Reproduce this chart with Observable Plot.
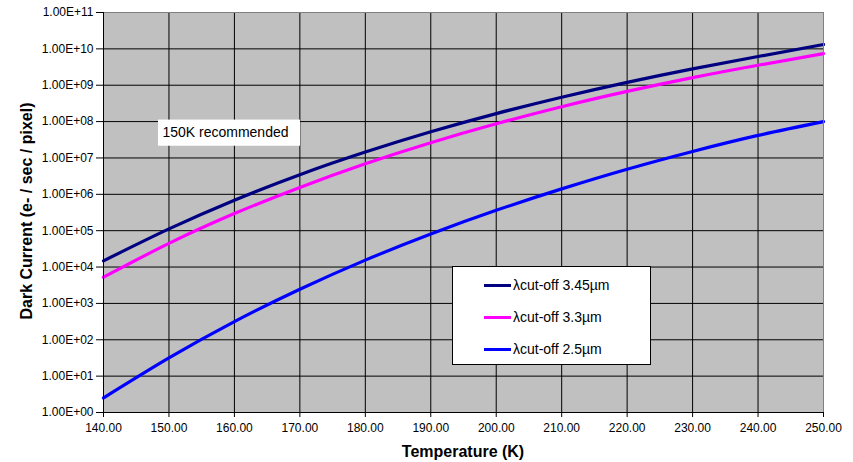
<!DOCTYPE html>
<html>
<head>
<meta charset="utf-8">
<script src="https://cdn.jsdelivr.net/npm/d3@7"></script>
<script src="https://cdn.jsdelivr.net/npm/@observablehq/plot@0.6"></script>
<style>
  html, body { margin: 0; padding: 0; background: #fff; }
  #wrap { position: relative; width: 853px; height: 462px; font-family: "Liberation Sans", Arial, sans-serif; }
  .title { position: absolute; font-weight: bold; font-size: 16px; color: #000; white-space: nowrap; }
  #legend { position: absolute; left: 452px; top: 266px; width: 199px; height: 99px; background: #fff; border: 1px solid #000; box-sizing: border-box; font-size: 14px; }
  .row { position: absolute; left: 31px; height: 16px; display: flex; align-items: center; white-space: nowrap; }
  .sw { width: 27px; height: 3px; margin-right: 2px; }
</style>
</head>
<body>
<div id="wrap"></div>
<script>
// ---- data ----
const temperatures = [140, 150, 160, 170, 180, 190, 200, 210, 220, 230, 240, 250];
const cutoff345 = [1.48e4, 1.12e5, 6.9e5, 3.47e6, 1.45e7, 5.25e7, 1.66e8, 4.68e8, 1.2e9, 2.82e9, 6.17e9, 1.32e10];
const cutoff33  = [5.25e3, 4.47e4, 2.95e5, 1.55e6, 6.92e6, 2.63e7, 8.71e7, 2.57e8, 6.76e8, 1.62e9, 3.55e9, 7.4e9];
const cutoff25  = [2.51, 31.6, 316, 2.45e3, 1.55e4, 8.13e4, 3.63e5, 1.41e6, 4.9e6, 1.51e7, 4.17e7, 1.0e8];
const seriesNames = ["λcut-off 3.45µm", "λcut-off 3.3µm", "λcut-off 2.5µm"];
const seriesColors = ["#000080", "#ff00ff", "#0000ff"];
const xTicks = [140, 150, 160, 170, 180, 190, 200, 210, 220, 230, 240, 250];
const yTicks = [1, 10, 1e2, 1e3, 1e4, 1e5, 1e6, 1e7, 1e8, 1e9, 1e10, 1e11];
const xTitle = "Temperature (K)";
const yTitle = "Dark Current (e- / sec / pixel)";
const noteText = "150K recommended";
const noteBox = {x1: 148.4, x2: 170.1, y1: 2.1e7, y2: 1.1e8, tx: 149.0, ty: 5.0e7};

const seriesValues = [cutoff345, cutoff33, cutoff25];
const rows = [];
seriesNames.forEach((name, i) => {
  temperatures.forEach((t, j) => rows.push({series: name, T: t, v: seriesValues[i][j]}));
});

const yFmt = d => {
  const e = Math.round(Math.log10(d));
  return "1.00E" + (e < 0 ? "-" : "+") + String(Math.abs(e)).padStart(2, "0");
};

const chart = Plot.plot({
  width: 853,
  height: 462,
  marginLeft: 103,
  marginRight: 30,
  marginTop: 12,
  marginBottom: 50,
  style: {fontFamily: "'Liberation Sans', Arial, sans-serif", fontSize: "12px", color: "#000", background: "transparent", overflow: "visible"},
  x: {domain: [140, 250]},
  y: {type: "log", domain: [1, 1e11]},
  color: {domain: seriesNames, range: seriesColors},
  marks: [
    Plot.frame({fill: "#c0c0c0", stroke: null}),
    Plot.gridX(xTicks, {stroke: "#000", strokeOpacity: 1, strokeWidth: 1}),
    Plot.gridY(yTicks, {stroke: "#000", strokeOpacity: 1, strokeWidth: 1}),
    Plot.line(rows, {x: "T", y: "v", z: "series", stroke: "series", strokeWidth: 3.2, curve: "natural"}),
    Plot.rect([noteBox], {x1: "x1", x2: "x2", y1: "y1", y2: "y2", fill: "#fff"}),
    Plot.text([noteBox], {x: "tx", y: "ty", text: () => noteText, textAnchor: "start", fontSize: 14, fill: "#000"}),
    Plot.frame({stroke: "#808080", strokeWidth: 1}),
    Plot.ruleX([140], {stroke: "#000"}),
    Plot.ruleY([1], {stroke: "#000"}),
    Plot.axisX(xTicks, {tickFormat: d => d.toFixed(2), tickSize: 5, tickPadding: 6, label: null, fontSize: 12}),
    Plot.axisY(yTicks, {tickFormat: yFmt, tickSize: 7, tickPadding: 3, label: null, fontSize: 12})
  ]
});

const wrap = document.getElementById("wrap");
chart.style.position = "absolute";
chart.style.left = "0px";
chart.style.top = "0px";
wrap.appendChild(chart);

const xt = document.createElement("div");
xt.className = "title";
xt.textContent = xTitle;
xt.style.left = "463px";
xt.style.top = "452px";
xt.style.transform = "translate(-50%, -50%)";
wrap.appendChild(xt);

const yt = document.createElement("div");
yt.className = "title";
yt.textContent = yTitle;
yt.style.left = "27px";
yt.style.top = "211px";
yt.style.transform = "translate(-50%, -50%) rotate(-90deg)";
wrap.appendChild(yt);

const legend = document.createElement("div");
legend.id = "legend";
const rowTops = [10, 42, 74];
seriesNames.forEach((name, i) => {
  const r = document.createElement("div");
  r.className = "row";
  r.style.top = rowTops[i] + "px";
  const sw = document.createElement("div");
  sw.className = "sw";
  sw.style.background = seriesColors[i];
  const lab = document.createElement("span");
  lab.textContent = name;
  r.appendChild(sw);
  r.appendChild(lab);
  legend.appendChild(r);
});
wrap.appendChild(legend);
</script>
</body>
</html>
